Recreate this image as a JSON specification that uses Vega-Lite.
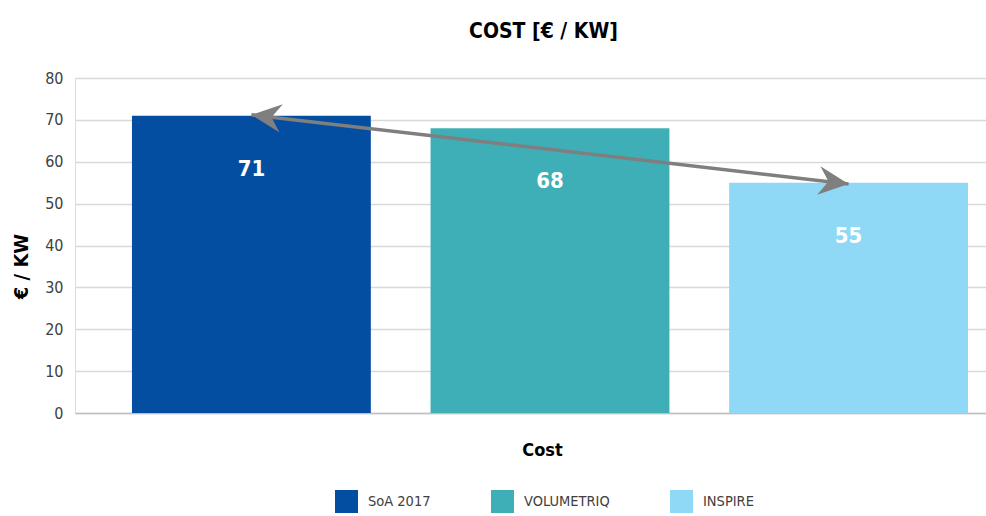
{
  "$schema": "https://vega.github.io/schema/vega-lite/v6.json",
  "width": 911,
  "height": 335,
  "autosize": {"type": "none"},
  "padding": {"left": 75, "top": 78, "right": 0, "bottom": 103},
  "background": "white",
  "config": {"font": "'Liberation Sans Narrow', 'DejaVu Sans Condensed', 'Roboto Condensed', Roboto, sans-serif"},
  "title": {
    "text": "COST [€ / KW]",
    "anchor": "middle",
    "dx": 13,
    "offset": 28,
    "font": "'Liberation Sans Narrow', 'DejaVu Sans Condensed', 'Roboto Condensed', Roboto, sans-serif",
    "fontSize": 21,
    "fontWeight": "bold",
    "color": "#000000"
  },
  "datasets": {
    "bars": [
      {"series": "SoA 2017", "value": 71},
      {"series": "VOLUMETRIQ", "value": 68},
      {"series": "INSPIRE", "value": 55}
    ],
    "arrow": [
      {"series": "SoA 2017", "value": 71.2},
      {"series": "INSPIRE", "value": 54.7}
    ]
  },
  "encoding": {
    "x": {
      "field": "series",
      "type": "nominal",
      "scale": {
        "domain": ["SoA 2017", "VOLUMETRIQ", "INSPIRE"],
        "paddingInner": 0.2,
        "paddingOuter": 0.1255,
        "align": 0.76
      },
      "axis": {
        "labels": false,
        "ticks": false,
        "domain": true,
        "domainColor": "#c0c0c0",
        "domainWidth": 1.5,
        "title": "Cost",
        "titleFont": "'Liberation Sans Narrow', 'DejaVu Sans Condensed', 'Roboto Condensed', Roboto, sans-serif",
        "titleFontSize": 18,
        "titleFontWeight": "bold",
        "titleColor": "#000000",
        "titleX": 467,
        "titleY": 37,
        "titleBaseline": "middle",
        "titleAlign": "center"
      }
    },
    "y": {
      "field": "value",
      "type": "quantitative",
      "scale": {"domain": [0, 80], "nice": false},
      "axis": {
        "values": [0, 10, 20, 30, 40, 50, 60, 70, 80],
        "domain": false,
        "ticks": false,
        "grid": true,
        "gridColor": "#d9d9d9",
        "gridWidth": 1.5,
        "labelFont": "'Liberation Sans Narrow', 'DejaVu Sans Condensed', 'Roboto Condensed', Roboto, sans-serif",
        "labelFontSize": 16,
        "labelColor": "#404040",
        "labelPadding": 12,
        "title": "€ / KW",
        "titleFont": "'Liberation Sans Narrow', 'DejaVu Sans Condensed', 'Roboto Condensed', Roboto, sans-serif",
        "titleFontSize": 20,
        "titleFontWeight": "bold",
        "titleColor": "#000000",
        "titleAngle": -90,
        "titleX": -54,
        "titleY": 188,
        "titleBaseline": "middle",
        "titleAlign": "center"
      }
    }
  },
  "layer": [
    {
      "data": {"name": "bars"},
      "mark": {"type": "bar"},
      "encoding": {
        "color": {
          "field": "series",
          "type": "nominal",
          "scale": {
            "domain": ["SoA 2017", "VOLUMETRIQ", "INSPIRE"],
            "range": ["#044EA1", "#3FAFB7", "#8FD8F6"]
          },
          "legend": {
            "orient": "none",
            "legendX": 260,
            "legendY": 412,
            "direction": "horizontal",
            "title": null,
            "symbolType": "square",
            "symbolSize": 529,
            "symbolStrokeWidth": 0,
            "symbolOpacity": 1,
            "labelFont": "'Liberation Sans Narrow', 'DejaVu Sans Condensed', 'Roboto Condensed', Roboto, sans-serif",
            "labelFontSize": 14.5,
            "labelColor": "#404040",
            "labelOffset": 10,
            "columnPadding": 60,
            "padding": 0
          }
        }
      }
    },
    {
      "data": {"name": "bars"},
      "mark": {
        "type": "text",
        "baseline": "top",
        "dy": 43,
        "color": "#ffffff",
        "font": "'Liberation Sans Narrow', 'DejaVu Sans Condensed', 'Roboto Condensed', Roboto, sans-serif",
        "fontSize": 22,
        "fontWeight": "bold"
      },
      "encoding": {
        "text": {"field": "value", "type": "quantitative"}
      }
    },
    {
      "data": {"name": "arrow"},
      "mark": {"type": "line", "color": "#7f7f7f", "strokeWidth": 3.5},
      "encoding": {}
    },
    {
      "data": {"name": "arrow"},
      "transform": [{"filter": "datum.series === 'SoA 2017'"}],
      "mark": {
        "type": "point",
        "shape": "M0,0 L2,-0.95 L1.35,0 L2,0.95 Z",
        "size": 900,
        "angle": 6.6,
        "filled": true,
        "fill": "#7f7f7f",
        "strokeWidth": 0,
        "opacity": 1
      },
      "encoding": {}
    },
    {
      "data": {"name": "arrow"},
      "transform": [{"filter": "datum.series === 'INSPIRE'"}],
      "mark": {
        "type": "point",
        "shape": "M0,0 L-2,-0.95 L-1.35,0 L-2,0.95 Z",
        "size": 900,
        "angle": 6.6,
        "filled": true,
        "fill": "#7f7f7f",
        "strokeWidth": 0,
        "opacity": 1
      },
      "encoding": {}
    }
  ]
}
